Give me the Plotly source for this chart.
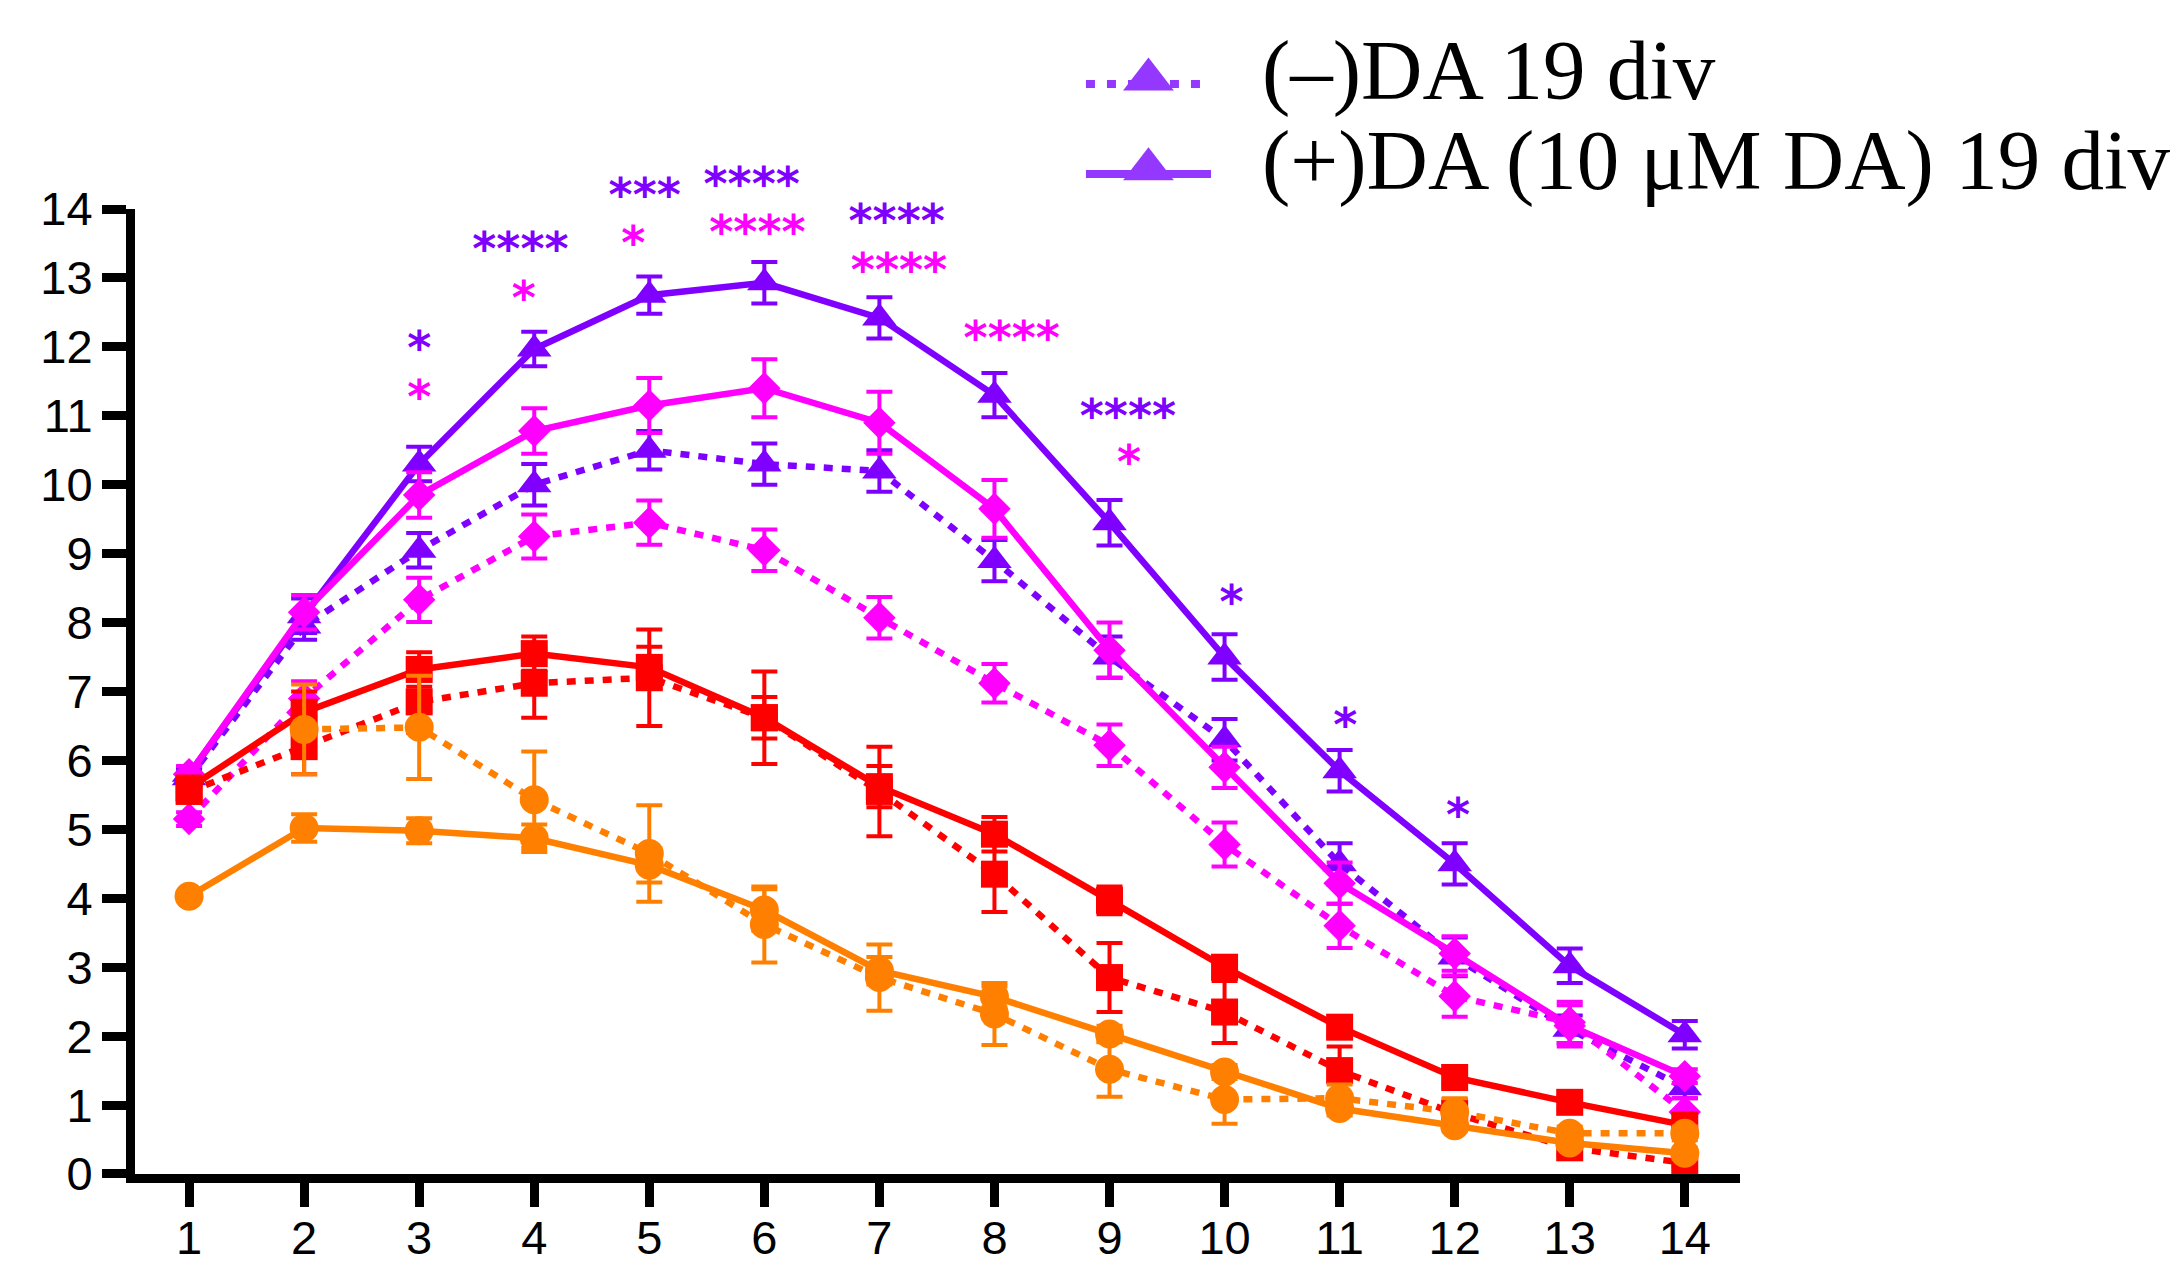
import plotly.graph_objects as go

# ---------------- data ----------------
days = list(range(1, 15))

purple_minus = [5.75, 7.95, 9.05, 10.0, 10.5, 10.3, 10.2, 8.9, 7.5, 6.3, 4.5, 3.15, 2.1, 1.25]
purple_minus_err = [0.12, 0.2, 0.25, 0.3, 0.28, 0.3, 0.3, 0.3, 0.3, 0.3, 0.3, 0.28, 0.2, 0.15]
purple_plus = [5.8, 8.1, 10.3, 11.97, 12.75, 12.93, 12.42, 11.3, 9.45, 7.5, 5.85, 4.5, 3.02, 2.02]
purple_plus_err = [0.1, 0.25, 0.25, 0.25, 0.27, 0.3, 0.3, 0.32, 0.33, 0.33, 0.3, 0.3, 0.25, 0.2]

magenta_minus = [5.15, 6.9, 8.33, 9.25, 9.45, 9.05, 8.07, 7.12, 6.22, 4.78, 3.6, 2.58, 2.2, 0.9]
magenta_minus_err = [0.1, 0.25, 0.32, 0.32, 0.32, 0.3, 0.3, 0.28, 0.3, 0.32, 0.32, 0.3, 0.3, 0.2]
magenta_plus = [5.8, 8.15, 9.85, 10.78, 11.15, 11.4, 10.9, 9.65, 7.6, 5.9, 4.22, 3.2, 2.15, 1.42]
magenta_plus_err = [0.12, 0.25, 0.33, 0.33, 0.4, 0.42, 0.45, 0.42, 0.4, 0.3, 0.3, 0.25, 0.3, 0.1]

red_minus = [5.55, 6.2, 6.85, 7.12, 7.2, 6.62, 5.55, 4.35, 2.85, 2.35, 1.5, 0.88, 0.38, 0.16]
red_minus_err = [0.1, 0.4, 0.45, 0.5, 0.7, 0.67, 0.65, 0.55, 0.5, 0.45, 0.35, 0.2, 0.1, 0.05]
red_plus = [5.6, 6.7, 7.32, 7.55, 7.35, 6.62, 5.62, 4.93, 3.97, 3.0, 2.13, 1.4, 1.04, 0.71]
red_plus_err = [0.1, 0.3, 0.25, 0.25, 0.3, 0.3, 0.3, 0.25, 0.2, 0.15, 0.12, 0.1, 0.1, 0.08]

orange_minus = [None, 6.45, 6.48, 5.43, 4.65, 3.62, 2.85, 2.32, 1.52, 1.08, 1.1, 0.9, 0.59, 0.59]
orange_minus_err = [None, 0.65, 0.75, 0.7, 0.7, 0.55, 0.48, 0.45, 0.4, 0.35, 0.2, 0.2, 0.1, 0.1]
orange_plus = [4.03, 5.02, 4.98, 4.87, 4.48, 3.83, 2.95, 2.57, 2.03, 1.48, 0.95, 0.7, 0.45, 0.3]
orange_plus_err = [0.05, 0.2, 0.18, 0.2, 0.25, 0.3, 0.2, 0.15, 0.12, 0.1, 0.1, 0.08, 0.08, 0.08]

# significance marks (label positions in data units)
purple_star_x = [3.0, 3.88, 4.96, 5.89, 7.15, 9.16, 10.06, 11.05, 12.03]
purple_star_y = [11.92, 13.36, 14.14, 14.3, 13.76, 10.93, 8.24, 6.45, 5.15]
purple_star_text = ["*", "****", "***", "****", "****", "****", "*", "*", "*"]
magenta_star_x = [3.0, 3.91, 4.86, 5.94, 7.17, 8.15, 9.17]
magenta_star_y = [11.21, 12.65, 13.44, 13.6, 13.05, 12.06, 10.26]
magenta_star_text = ["*", "*", "*", "****", "****", "****", "*"]

legend_labels = ["(–)DA 19 div", "(+)DA (10 μM DA) 19 div"]

x_ticks = list(range(1, 15))
y_ticks = list(range(0, 15))
y_max = 14

# ---------------- style ----------------
PURPLE = "#8000ff"
MAGENTA = "#ff00ff"
RED = "#ff0000"
ORANGE = "#ff8000"
DOT = "9px,9px"
LW = 6.5
Y_TOP = 0.8362  # top of main y-axis domain (paper fraction)

series = [
    (purple_minus, purple_minus_err, PURPLE, DOT, "triangle-up", 30),
    (purple_plus, purple_plus_err, PURPLE, "solid", "triangle-up", 30),
    (magenta_minus, magenta_minus_err, MAGENTA, DOT, "diamond", 25),
    (magenta_plus, magenta_plus_err, MAGENTA, "solid", "diamond", 25),
    (red_minus, red_minus_err, RED, DOT, "square", 27),
    (red_plus, red_plus_err, RED, "solid", "square", 27),
    (orange_minus, orange_minus_err, ORANGE, DOT, "circle", 29),
    (orange_plus, orange_plus_err, ORANGE, "solid", "circle", 29),
]

fig = go.Figure()
for y, err, col, dash, sym, size in series:
    fig.add_trace(go.Scatter(
        x=days, y=y, mode="lines+markers",
        line=dict(color=col, width=LW, dash=dash),
        marker=dict(symbol=sym, size=size, color=col, line=dict(width=0)),
        error_y=dict(type="data", array=err, color=col, thickness=4, width=13),
        cliponaxis=False, showlegend=False, connectgaps=False,
    ))

# significance marks on an invisible y-axis spanning the full height, same scale as the main y-axis
for xs, ys, ts, col in [(purple_star_x, purple_star_y, purple_star_text, PURPLE),
                        (magenta_star_x, magenta_star_y, magenta_star_text, MAGENTA)]:
    fig.add_trace(go.Scatter(
        x=xs, y=ys, text=ts, mode="text", textposition="middle center", yaxis="y3",
        textfont=dict(family="DejaVu Sans", size=46, color=col, weight="bold"),
        cliponaxis=False, showlegend=False, hoverinfo="skip"))

# custom legend drawn on an invisible full-page subplot (x2/y2 = paper coordinates)
LEG_COL = "#9438ff"
leg_y = [0.9445, 0.8666]
leg_x0, leg_x1 = 0.5925, 0.6704
for i, (lab, dash) in enumerate(zip(legend_labels, ["9px,12px", "solid"])):
    fig.add_trace(go.Scatter(
        x=[leg_x0, leg_x1], y=[leg_y[i], leg_y[i]], xaxis="x2", yaxis="y2",
        mode="lines", line=dict(color=LEG_COL, width=8, dash=dash),
        showlegend=False, hoverinfo="skip", cliponaxis=False))
    fig.add_trace(go.Scatter(
        x=[(leg_x0 + leg_x1) / 2], y=[leg_y[i] + 0.004], xaxis="x2", yaxis="y2",
        mode="markers", marker=dict(symbol="triangle-up", size=44, color=LEG_COL),
        showlegend=False, hoverinfo="skip", cliponaxis=False))
    fig.add_annotation(x=0.701, y=leg_y[i] + 0.012, xref="paper", yref="paper",
                       text=lab, showarrow=False, xanchor="left", yanchor="middle",
                       font=dict(family="Liberation Serif", size=85, color="black"))

axis_common = dict(showgrid=False, zeroline=False, showline=True, linecolor="black",
                   linewidth=9, ticks="outside", tickwidth=9, tickcolor="black",
                   automargin=False,
                   tickfont=dict(family="Liberation Sans", size=47, color="black"))

fig.update_layout(
    width=2183, height=1268,
    margin=dict(l=135, r=443, t=20, b=94),
    paper_bgcolor="white", plot_bgcolor="rgba(0,0,0,0)",
    xaxis=dict(range=[0.53, 14.48], tickvals=x_ticks, ticklen=24, domain=[0, 1],
               anchor="y", ticklabelstandoff=-9, **axis_common),
    yaxis=dict(range=[0, y_max], tickvals=y_ticks, ticklen=24, domain=[0, Y_TOP],
               anchor="x", **axis_common),
    yaxis3=dict(range=[0, y_max / Y_TOP], domain=[0, 1], visible=False, anchor="x",
                fixedrange=True),
    xaxis2=dict(range=[0, 1], domain=[0, 1], visible=False, anchor="y2", fixedrange=True),
    yaxis2=dict(range=[0, 1], domain=[0, 1], visible=False, anchor="x2", fixedrange=True),
    showlegend=False,
)

fig.write_html("out.html")
